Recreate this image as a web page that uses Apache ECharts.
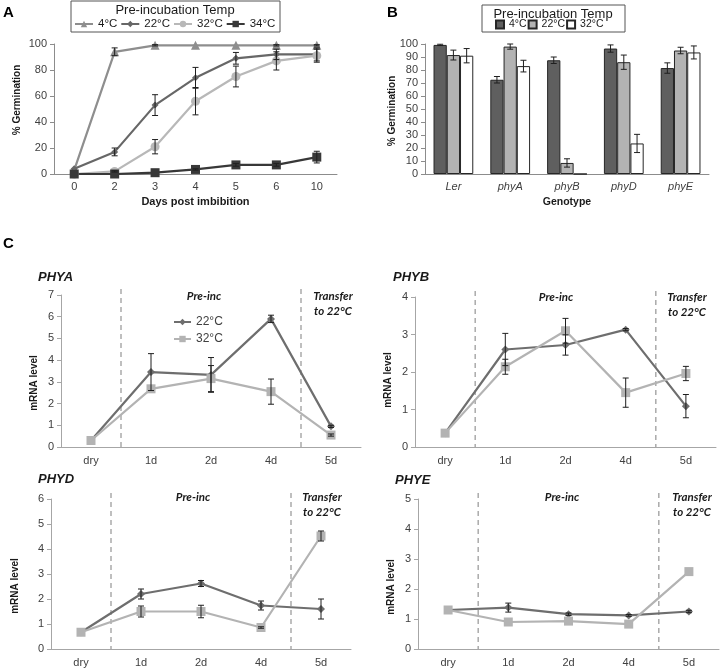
<!DOCTYPE html>
<html>
<head>
<meta charset="utf-8" />
<title>Germination and PHY transcript levels</title>
<style>
  html, body { margin: 0; padding: 0; background: #fff; }
  .panel { position: absolute; }
  #chartA { left: 0; top: 0; width: 360px; height: 215px; }
  #chartB { left: 360px; top: 0; width: 361px; height: 215px; }
  #chartC { left: 0; top: 215px; width: 721px; height: 454px; }
</style>
</head>
<body>
<div id="chartA" class="panel"></div>
<div id="chartB" class="panel"></div>
<div id="chartC" class="panel"></div>
<script src="https://cdn.jsdelivr.net/npm/echarts@6/dist/echarts.min.js"></script>
<script>
// ---- panel A : germination time course ----
var daysA = ['0', '2', '3', '4', '5', '6', '10'];
var germ4 = [3, 94, 99, 99, 99, 99, 99];
var err4 = [0, 3, 0.5, 0, 0, 0.5, 0.5];
var germ22 = [4, 17, 53, 74, 89, 92, 92];
var err22 = [0, 3, 8, 8, 4.5, 4, 5];
var germ32 = [0, 2, 21, 56, 75, 87, 91];
var err32 = [0, 0.5, 5.5, 10.5, 8, 7, 5];
var germ34 = [0, 0, 1, 3.5, 7, 7, 13];
var err34 = [0, 0, 0, 0.5, 1, 1, 4.5];

// ---- panel B : germination per genotype ----
var genotypes = ['Ler', 'phyA', 'phyB', 'phyD', 'phyE'];
var bar4 = [99.3, 72.5, 87.5, 96.5, 81.5];
var barErr4 = [0.5, 2.5, 2.5, 2.8, 4];
var bar22 = [91.5, 98, 8.5, 86, 95];
var barErr22 = [3.8, 2, 3.2, 5.5, 2.5];
var bar32 = [91, 83, 0, 23.5, 93.5];
var barErr32 = [5.5, 4.5, 0, 7, 5];

// ---- panel C : mRNA levels ----
var timeC = ['dry', '1d', '2d', '4d', '5d'];
var phaseStarts = ['1d', '5d'];   // dashed separators sit before these
var phyA22 = [0.3, 3.45, 3.32, 5.9, 0.95];
var phyA22err = [0, 0.85, 0.8, 0.17, 0.05];
var phyA32 = [0.3, 2.68, 3.15, 2.55, 0.55];
var phyA32err = [0, 0, 0.6, 0.58, 0.05];
var phyB22 = [0.37, 2.6, 2.72, 3.13, 1.09];
var phyB22err = [0, 0.43, 0.27, 0.03, 0.31];
var phyB32 = [0.37, 2.14, 3.1, 1.45, 1.96];
var phyB32err = [0, 0.2, 0.33, 0.39, 0.19];
var phyD22 = [0.67, 2.2, 2.62, 1.74, 1.6];
var phyD22err = [0, 0.2, 0.12, 0.18, 0.4];
var phyD32 = [0.67, 1.5, 1.5, 0.86, 4.52];
var phyD32err = [0, 0.22, 0.25, 0.03, 0.2];
var phyE22 = [1.3, 1.38, 1.16, 1.12, 1.25];
var phyE22err = [0, 0.15, 0.04, 0.03, 0.04];
var phyE32 = [1.3, 0.9, 0.93, 0.83, 2.58];
var phyE32err = [0, 0, 0, 0, 0];
var yMaxC = [7, 4, 6, 5];

var FONT = '"Liberation Sans", Arial, sans-serif';
var ITAL = 'Lato, "Open Sans", sans-serif';
var TXT = '#404040';
var AX = '#8c8c8c';

// points with an error value -> [index, low, high]
function errData(vals, errs) {
	var out = [];
	for (var i = 0; i < vals.length; i++) {
		if (errs[i] > 0) out.push([i, vals[i] - errs[i], vals[i] + errs[i]]);
	}
	return out;
}

// error bar renderer, shift = bar slot (-1,0,1) for grouped bars
function errRender(shift) {
	return function (params, api) {
		var i = api.value(0);
		var lo = api.coord([i, api.value(1)]);
		var hi = api.coord([i, api.value(2)]);
		var dx = shift ? shift * api.size([1, 0])[0] * 0.7 / 3 : 0;
		var x = lo[0] + dx, cap = 3;
		var st = { stroke: '#1f1f1f', lineWidth: 1 };
		return {
			type: 'group',
			children: [
				{ type: 'line', shape: { x1: x, y1: lo[1], x2: x, y2: hi[1] }, style: st },
				{ type: 'line', shape: { x1: x - cap, y1: lo[1], x2: x + cap, y2: lo[1] }, style: st },
				{ type: 'line', shape: { x1: x - cap, y1: hi[1], x2: x + cap, y2: hi[1] }, style: st }
			]
		};
	};
}

function errSeries(vals, errs, extra) {
	var s = {
		type: 'custom',
		renderItem: errRender(0),
		data: errData(vals, errs),
		z: 5,
		silent: true
	};
	for (var k in extra) s[k] = extra[k];
	return s;
}

function lineSeries(name, data, color, symbol, size, extra) {
	var s = {
		name: name,
		type: 'line',
		data: data,
		symbol: symbol,
		symbolSize: size,
		lineStyle: { color: color, width: 2.2 },
		itemStyle: { color: color },
		z: 3
	};
	for (var k in extra) s[k] = extra[k];
	return s;
}

function txt(x, y, text, o) {
	var style = {
		text: text,
		fill: o.fill || '#1a1a1a',
		font: o.font,
		textAlign: o.align || 'left',
		textVerticalAlign: 'middle'
	};
	return { type: 'text', x: x, y: y, rotation: o.rot || 0, style: style, z: 10 };
}

// ================= A =================
var chartA = echarts.init(document.getElementById('chartA'));
chartA.setOption({
	animation: false,
	textStyle: { fontFamily: FONT },
	grid: { left: 54, top: 44, width: 283, height: 130 },
	legend: {
		left: 74, top: 18, padding: 0,
		itemWidth: 18, itemHeight: 8, itemGap: 3,
		data: ['4°C', '22°C', '32°C', '34°C'],
		textStyle: { fontSize: 11.5, color: '#1a1a1a', fontFamily: FONT }
	},
	graphic: [
		{ type: 'rect', shape: { x: 71, y: 1, width: 209, height: 31 }, style: { fill: 'transparent', stroke: '#555', lineWidth: 1 }, z: -1 },
		txt(175, 10, 'Pre-incubation Temp', { font: '13px ' + FONT, align: 'center' }),
		txt(3, 13, 'A', { font: 'bold 15px ' + FONT, fill: '#000' }),
		txt(17, 100, '% Germination', { font: 'bold 10px ' + FONT, align: 'center', rot: Math.PI / 2 })
	],
	xAxis: {
		type: 'category',
		data: daysA,
		axisLine: { lineStyle: { color: AX } },
		axisTick: { length: 4, lineStyle: { color: AX } },
		axisLabel: { color: TXT, fontSize: 11, margin: 7 },
		name: 'Days post imbibition',
		nameLocation: 'middle',
		nameGap: 22,
		nameTextStyle: { fontWeight: 'bold', fontSize: 11, color: '#1a1a1a' }
	},
	yAxis: {
		type: 'value',
		min: 0, max: 100, interval: 20,
		axisLine: { show: true, lineStyle: { color: AX } },
		axisTick: { show: true, length: 4, lineStyle: { color: AX } },
		splitLine: { show: false },
		axisLabel: { color: TXT, fontSize: 11, margin: 7 }
	},
	series: [
		lineSeries('4°C', germ4, '#8e8e8e', 'triangle', 9),
		lineSeries('22°C', germ22, '#676767', 'diamond', 7),
		lineSeries('32°C', germ32, '#b8b8b8', 'circle', 9),
		lineSeries('34°C', germ34, '#383838', 'rect', 9),
		errSeries(germ4, err4),
		errSeries(germ22, err22),
		errSeries(germ32, err32),
		errSeries(germ34, err34)
	]
});

// ================= B =================
var barStyle = function (c) {
	return { color: c, borderColor: '#262626', borderWidth: 1 };
};
var chartB = echarts.init(document.getElementById('chartB'));
chartB.setOption({
	animation: false,
	textStyle: { fontFamily: FONT },
	grid: { left: 65, top: 44, width: 284, height: 130 },
	legend: {
		left: 135, top: 19, padding: 0,
		icon: 'rect',
		itemWidth: 8, itemHeight: 8, itemGap: 1,
		data: ['4°C', '22°C', '32°C'],
		textStyle: { fontSize: 10.5, color: '#1a1a1a', fontFamily: FONT }
	},
	graphic: [
		{ type: 'rect', shape: { x: 122, y: 5, width: 143, height: 27 }, style: { fill: 'transparent', stroke: '#555', lineWidth: 1 }, z: -1 },
		txt(193, 14, 'Pre-incubation Temp', { font: '13px ' + FONT, align: 'center' }),
		txt(27, 13, 'B', { font: 'bold 15px ' + FONT, fill: '#000' }),
		txt(32, 111, '% Germination', { font: 'bold 10px ' + FONT, align: 'center', rot: Math.PI / 2 })
	],
	xAxis: {
		type: 'category',
		data: genotypes,
		axisLine: { lineStyle: { color: AX } },
		axisTick: { length: 4, lineStyle: { color: AX } },
		axisLabel: { color: TXT, fontSize: 11, fontStyle: 'italic', margin: 7 },
		name: 'Genotype',
		nameLocation: 'middle',
		nameGap: 22,
		nameTextStyle: { fontWeight: 'bold', fontSize: 10.5, color: '#1a1a1a' }
	},
	yAxis: {
		type: 'value',
		min: 0, max: 100, interval: 10,
		axisLine: { show: true, lineStyle: { color: AX } },
		axisTick: { show: true, length: 4, lineStyle: { color: AX } },
		splitLine: { show: false },
		axisLabel: { color: TXT, fontSize: 11, margin: 7 }
	},
	series: [
		{ name: '4°C', type: 'bar', data: bar4, barGap: '0%', barCategoryGap: '30%', itemStyle: barStyle('#5f5f5f') },
		{ name: '22°C', type: 'bar', data: bar22, itemStyle: barStyle('#b3b3b3') },
		{ name: '32°C', type: 'bar', data: bar32, itemStyle: barStyle('#ffffff') },
		errSeries(bar4, barErr4, { renderItem: errRender(-1) }),
		errSeries(bar22, barErr22, { renderItem: errRender(0) }),
		errSeries(bar32, barErr32, { renderItem: errRender(1) })
	]
});

// ================= C =================
var gridsC = [
	{ left: 61, top: 80, width: 300, height: 152 },
	{ left: 415, top: 82, width: 301, height: 150 },
	{ left: 51, top: 284, width: 300, height: 150 },
	{ left: 418, top: 284, width: 301, height: 150 }
];
var genesC = ['PHYA', 'PHYB', 'PHYD', 'PHYE'];
var vals22 = [phyA22, phyB22, phyD22, phyE22];
var errs22 = [phyA22err, phyB22err, phyD22err, phyE22err];
var vals32 = [phyA32, phyB32, phyD32, phyE32];
var errs32 = [phyA32err, phyB32err, phyD32err, phyE32err];
var AXC = '#a6a6a6';

var xAxesC = [], yAxesC = [], seriesC = [], graphicC = [];
graphicC.push(txt(3, 29, 'C', { font: 'bold 15px ' + FONT, fill: '#000' }));

// label spots: [title x, title y, pre-inc x, pre-inc y, transfer x, transfer y, ylabel x, ylabel y]
var labelPos = [
	[38, 62, 204, 81, 333, 81, 34, 168],
	[393, 62, 556, 82, 687, 82, 388, 165],
	[38, 264, 193, 282, 322, 282, 15, 371],
	[395, 265, 562, 282, 692, 282, 391, 372]
];

for (var g = 0; g < 4; g++) {
	xAxesC.push({
		type: 'category',
		gridIndex: g,
		data: timeC,
		axisLine: { lineStyle: { color: AXC } },
		axisTick: { length: 4, lineStyle: { color: AXC } },
		axisLabel: { color: TXT, fontSize: 11, margin: 8 }
	});
	yAxesC.push({
		type: 'value',
		gridIndex: g,
		min: 0, max: yMaxC[g], interval: 1,
		axisLine: { show: true, lineStyle: { color: AXC } },
		axisTick: { show: true, length: 4, lineStyle: { color: AXC } },
		splitLine: { show: false },
		axisLabel: { color: TXT, fontSize: 11, margin: 7 }
	});
	// dashed phase separators
	seriesC.push({
		type: 'custom',
		xAxisIndex: g, yAxisIndex: g,
		silent: true,
		data: phaseStarts.map(function (c) { return [timeC.indexOf(c)]; }),
		renderItem: function (params, api) {
			var cs = params.coordSys;
			var x = api.coord([api.value(0), 0])[0] - api.size([1, 0])[0] / 2;
			return {
				type: 'line',
				shape: { x1: x, y1: cs.y - 6, x2: x, y2: cs.y + cs.height },
				style: { stroke: '#aaaaaa', lineWidth: 1.5, lineDash: [5, 4] }
			};
		},
		z: 1
	});
	seriesC.push(lineSeries('22°C', vals22[g], '#6e6e6e', 'diamond', 8, { xAxisIndex: g, yAxisIndex: g }));
	seriesC.push(lineSeries('32°C', vals32[g], '#b3b3b3', 'rect', 9, { xAxisIndex: g, yAxisIndex: g }));
	seriesC.push(errSeries(vals22[g], errs22[g], { xAxisIndex: g, yAxisIndex: g }));
	seriesC.push(errSeries(vals32[g], errs32[g], { xAxisIndex: g, yAxisIndex: g }));

	var p = labelPos[g];
	graphicC.push(txt(p[0], p[1], genesC[g], { font: 'italic bold 13px ' + FONT }));
	graphicC.push(txt(p[2], p[3], 'Pre-inc', { font: 'italic bold 11.5px ' + ITAL, align: 'center' }));
	graphicC.push(txt(p[4], p[5], 'Transfer', { font: 'italic bold 11.5px ' + ITAL, align: 'center' }));
	graphicC.push(txt(p[4], p[5] + 15, 'to 22°C', { font: 'italic bold 11.5px ' + ITAL, align: 'center' }));
	graphicC.push(txt(p[6], p[7], 'mRNA level', { font: 'bold 10px ' + FONT, align: 'center', rot: Math.PI / 2 }));
}

var chartC = echarts.init(document.getElementById('chartC'));
chartC.setOption({
	animation: false,
	textStyle: { fontFamily: FONT },
	grid: gridsC,
	xAxis: xAxesC,
	yAxis: yAxesC,
	legend: {
		left: 173, top: 101, padding: 0,
		orient: 'vertical',
		itemWidth: 17, itemHeight: 8, itemGap: 5,
		data: ['22°C', '32°C'],
		textStyle: { fontSize: 12, color: TXT, fontFamily: FONT }
	},
	graphic: graphicC,
	series: seriesC
});
</script>
</body>
</html>
